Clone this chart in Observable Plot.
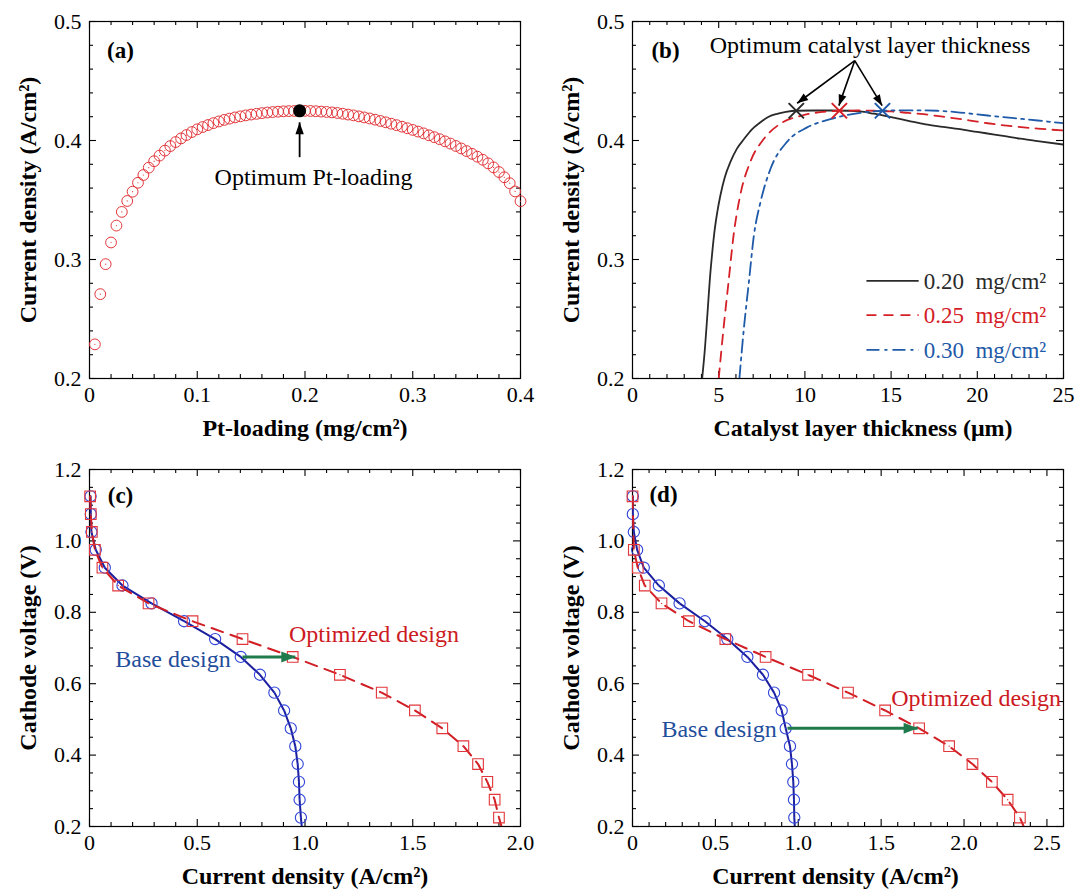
<!DOCTYPE html>
<html><head><meta charset="utf-8">
<script src="https://cdn.jsdelivr.net/npm/d3@7"></script>
<script src="https://cdn.jsdelivr.net/npm/@observablehq/plot@0.6"></script>
<style>
body{margin:0;background:#fff;}
#fig{position:relative;width:1078px;height:890px;overflow:hidden;}
#fig svg{position:absolute;overflow:visible;font-family:"Liberation Serif","Times New Roman",Times,serif !important;font-size:22px !important;}
#fig svg text{font-family:"Liberation Serif","Times New Roman",Times,serif !important;}
</style></head>
<body><div id="fig"></div>
<script>
// ---------- Panel (a) data ----------
const ptLoading = [0.005,0.010,0.015,0.020,0.025,0.030,0.035,0.040,0.045,0.050,0.055,0.060,0.065,0.070,0.075,0.080,0.085,0.090,0.095,0.100,
0.105,0.110,0.115,0.120,0.125,0.130,0.135,0.140,0.145,0.150,0.155,0.160,0.165,0.170,0.175,0.180,0.185,0.190,0.195,0.200,
0.205,0.210,0.215,0.220,0.225,0.230,0.235,0.240,0.245,0.250,0.255,0.260,0.265,0.270,0.275,0.280,0.285,0.290,0.295,0.300,
0.305,0.310,0.315,0.320,0.325,0.330,0.335,0.340,0.345,0.350,0.355,0.360,0.365,0.370,0.375,0.380,0.385,0.390,0.395,0.400];
const ptCurrent = [0.2287,0.2709,0.2961,0.3143,0.3285,0.3400,0.3492,0.3570,0.3645,0.3710,0.3772,0.3826,0.3873,0.3915,0.3953,0.3987,0.4018,0.4046,0.4071,0.4094,
0.4113,0.4130,0.4146,0.4160,0.4173,0.4184,0.4194,0.4203,0.4211,0.4218,0.4224,0.4230,0.4235,0.4239,0.4242,0.4245,0.4247,0.4248,0.4249,0.4249,
0.4248,0.4246,0.4243,0.4240,0.4236,0.4231,0.4225,0.4218,0.4211,0.4203,0.4194,0.4185,0.4175,0.4164,0.4153,0.4141,0.4129,0.4116,0.4103,0.4089,
0.4075,0.4060,0.4044,0.4028,0.4011,0.3993,0.3974,0.3954,0.3933,0.3911,0.3888,0.3864,0.3838,0.3808,0.3774,0.3735,0.3691,0.3641,0.3572,0.3490];
const optimumLoading = [{x: 0.195, y: 0.4249}];
const optimumLoadingArrow = [{x1: 0.195, y1: 0.386, x2: 0.195, y2: 0.4153}];
const optimumLoadingLabel = [{x: 0.208, y: 0.3692, text: "Optimum Pt-loading"}];

// ---------- Panel (b) data ----------
const thick020 = [4.04,4.20,4.35,4.49,4.62,4.75,4.92,5.10,5.35,5.68,6.05,6.46,6.90,7.42,7.90,8.39,8.90,9.50,10.5,11.5,12.5,13.2,14.0,15.0,16.0,17.0,18.0,19.0,20.0,21.0,21.7,22.5,23.5,25.0];
const curr020  = [0.200,0.225,0.255,0.284,0.305,0.323,0.340,0.354,0.369,0.382,0.393,0.401,0.409,0.4153,0.4200,0.4224,0.4240,0.4250,0.4252,0.4252,0.4250,0.4245,0.4225,0.4196,0.4165,0.4135,0.4115,0.4095,0.4072,0.4050,0.4034,0.4015,0.3995,0.3966];
const thick025 = [5.00,5.28,5.57,5.86,6.25,6.83,7.60,8.57,9.82,11.0,12.0,13.0,14.0,15.0,16.0,16.7,18.0,19.5,20.6,22.0,23.5,25.0];
const curr025  = [0.200,0.242,0.281,0.320,0.354,0.382,0.401,0.414,0.421,0.4240,0.4250,0.4252,0.4250,0.4245,0.4232,0.4224,0.4200,0.4170,0.4145,0.4120,0.4100,0.4084];
const thick030 = [6.20,6.46,6.75,7.04,7.42,8.00,8.97,10.13,11.48,12.84,14.0,14.5,15.5,16.5,17.7,19.0,20.6,22.0,23.5,25.0];
const curr030  = [0.200,0.242,0.281,0.320,0.348,0.376,0.399,0.411,0.418,0.4224,0.4245,0.4250,0.4253,0.4253,0.4250,0.4235,0.4210,0.4190,0.4168,0.4145];
const optThickness = [{x: 9.5, y: 0.4250, s: "0.20"}, {x: 12.0, y: 0.4250, s: "0.25"}, {x: 14.5, y: 0.4250, s: "0.30"}];
const optThicknessArrows = [{x1: 12.89, y1: 0.4671, x2: 9.55, y2: 0.4313}, {x1: 12.89, y1: 0.4671, x2: 11.97, y2: 0.4293}, {x1: 12.89, y1: 0.4671, x2: 14.48, y2: 0.4293}];
const optThicknessLabel = [{x: 13.78, y: 0.4796, text: "Optimum catalyst layer thickness"}];
const legendB = [
  {s: "0.20", x1: 13.57, x2: 16.6, y: 0.2821, text: "0.20\u00a0\u00a0mg/cm\u00b2"},
  {s: "0.25", x1: 13.57, x2: 16.6, y: 0.2533, text: "0.25\u00a0\u00a0mg/cm\u00b2"},
  {s: "0.30", x1: 13.57, x2: 16.6, y: 0.2240, text: "0.30\u00a0\u00a0mg/cm\u00b2"}
];

// ---------- Panels (c), (d) data ----------
const voltage = [1.125,1.075,1.025,0.975,0.925,0.875,0.825,0.775,0.725,0.675,0.625,0.575,0.525,0.475,0.425,0.375,0.325,0.275,0.225];
const cBase = [0.005,0.006,0.009,0.029,0.071,0.153,0.288,0.439,0.583,0.702,0.791,0.858,0.903,0.934,0.955,0.966,0.972,0.975,0.981];
const cOpt  = [0.003,0.006,0.011,0.025,0.060,0.133,0.274,0.478,0.710,0.943,1.162,1.356,1.510,1.637,1.735,1.803,1.846,1.880,1.900];
const dBase = [0.002,0.002,0.008,0.028,0.068,0.159,0.284,0.437,0.572,0.693,0.787,0.854,0.900,0.924,0.950,0.962,0.970,0.974,0.976];
const dOpt  = [0.000,null,null,0.008,0.032,0.074,0.175,0.340,0.560,0.803,1.059,1.300,1.524,1.729,1.910,2.051,2.168,2.263,2.337];
// curve ends at the bottom axis (0.2 V)
const cBaseEnd = 0.985, cOptEnd = 1.912, dBaseEnd = 0.979, dOptEnd = 2.36;
const cArrow = [{x1: 0.71, x2: 0.955, y1: 0.675, y2: 0.675}];
const dArrow = [{x1: 0.935, x2: 1.72, y1: 0.475, y2: 0.475}];
const cLabels = [{x: 1.32, y: 0.7377, text: "Optimized design", series: "opt"}, {x: 0.655, y: 0.668, text: "Base design", series: "base"}];
const dLabels = [{x: 2.073, y: 0.559, text: "Optimized design", series: "opt"}, {x: 0.870, y: 0.4723, text: "Base design", series: "base"}];

// ---------- tick values ----------
const aXTicks = [0, 0.1, 0.2, 0.3, 0.4];
const aYTicks = [0.2, 0.3, 0.4, 0.5];
const bXTicks = [0, 5, 10, 15, 20, 25];
const cdYTicks = [0.2, 0.4, 0.6, 0.8, 1.0, 1.2];
const cXTicks = [0, 0.5, 1.0, 1.5, 2.0];
const dXTicks = [0, 0.5, 1.0, 1.5, 2.0, 2.5];

// ---------- styling ----------
const FONT = '"Liberation Serif", "Times New Roman", Times, serif';
const RED_MARK = "#e2363a", RED_LINE = "#d01e24", RED_TEXT = "#cc1a22";
const BLUE_MARK = "#2f44d8", BLUE_LINE = "#1c1f9e", BLUE_TEXT = "#1f4e9c";
const GREEN = "#1f7a4c";
const colorB = {"0.20": "#2a2a2a", "0.25": "#d42026", "0.30": "#1f5aa8"};
const dashB = {"0.20": null, "0.25": "10,7", "0.30": "13,5,3,5"};
const fmt = d => d === 0 ? "0" : d3.format(".1f")(d);

function minor(lo, hi, step, majors) {
  return d3.range(Math.round((hi - lo) / step) + 1).map(i => +(lo + i * step).toFixed(6))
    .filter(v => !majors.some(m => Math.abs(m - v) < 1e-9));
}

// filled arrow-head symbol: tip at the origin, pointing up
function headSymbol(L, w) {
  return {draw(ctx) { ctx.moveTo(0, 0); ctx.lineTo(-w, L); ctx.lineTo(w, L); ctx.closePath(); }};
}
// arrow = shaft (link) + filled head rotated along the pixel direction
function arrowMarks(data, xDom, yDom, W, H, {stroke, strokeWidth, L, w}) {
  const kx = W / (xDom[1] - xDom[0]), ky = H / (yDom[1] - yDom[0]);
  const angle = d => Math.atan2((d.x2 - d.x1) * kx, (d.y2 - d.y1) * ky) * 180 / Math.PI;
  return [
    Plot.link(data, {x1: "x1", y1: "y1", x2: "x2", y2: "y2", stroke, strokeWidth}),
    Plot.dot(data, {x: "x2", y: "y2", symbol: headSymbol(L, w), rotate: angle, fill: stroke, stroke: "none", r: 1})
  ];
}

function frameTicks(xMaj, xMin, yMaj, yMin, W, H) {
  const M = 7, m = 4, sw = 1.1;
  return [
    Plot.tickX(xMaj, {x: d => d, insetTop: H - M, strokeWidth: sw}),
    Plot.tickX(xMaj, {x: d => d, insetBottom: H - M, strokeWidth: sw}),
    Plot.tickX(xMin, {x: d => d, insetTop: H - m, strokeWidth: sw}),
    Plot.tickX(xMin, {x: d => d, insetBottom: H - m, strokeWidth: sw}),
    Plot.tickY(yMaj, {y: d => d, insetRight: W - M, strokeWidth: sw}),
    Plot.tickY(yMaj, {y: d => d, insetLeft: W - M, strokeWidth: sw}),
    Plot.tickY(yMin, {y: d => d, insetRight: W - m, strokeWidth: sw}),
    Plot.tickY(yMin, {y: d => d, insetLeft: W - m, strokeWidth: sw}),
    Plot.frame({stroke: "#000", strokeWidth: 1.2})
  ];
}

function titles(xTitle, yTitle, panel, xdx, pdx, pdy) {
  return [
    Plot.text([xTitle], {text: d => d, frameAnchor: "bottom", dy: 50, dx: xdx, textAnchor: "middle", lineAnchor: "middle", fontWeight: "bold", fontSize: 24}),
    Plot.text([yTitle], {text: d => d, frameAnchor: "left", dx: -61.5, rotate: -90, textAnchor: "middle", lineAnchor: "middle", fontWeight: "bold", fontSize: 24}),
    Plot.text([panel], {text: d => d, frameAnchor: "top-left", dx: pdx, dy: pdy, textAnchor: "middle", lineAnchor: "middle", fontWeight: "bold", fontSize: 23})
  ];
}

function place(svg, left, top) {
  svg.style.left = left + "px";
  svg.style.top = top + "px";
  document.getElementById("fig").appendChild(svg);
}

const baseStyle = {fontFamily: FONT, fontSize: "22px", color: "#000", background: "transparent", overflow: "visible"};

// ---------- Panel (a) ----------
{
  const W = 540, H = 445, ml = 89, mr = 20, mt = 21, mb = 67;
  const xDom = [0, 0.4], yDom = [0.2, 0.5];
  const rows = ptLoading.map((x, i) => ({x, y: ptCurrent[i]}));
  const p = Plot.plot({
    width: W, height: H, marginLeft: ml, marginRight: mr, marginTop: mt, marginBottom: mb,
    style: baseStyle,
    x: {domain: xDom, ticks: aXTicks, tickSize: 0, tickPadding: 8, tickFormat: fmt, label: null},
    y: {domain: yDom, ticks: aYTicks, tickSize: 0, tickPadding: 8, tickFormat: fmt, label: null},
    marks: [
      ...frameTicks(aXTicks, minor(0, 0.4, 0.02, aXTicks), aYTicks, minor(0.2, 0.5, 0.02, aYTicks), W - ml - mr, H - mt - mb),
      Plot.dot(rows, {x: "x", y: "y", r: 5.4, stroke: RED_MARK, strokeWidth: 1, fill: "none"}),
      Plot.dot(rows, {x: "x", y: "y", r: 0.6, fill: RED_MARK}),
      Plot.dot(optimumLoading, {x: "x", y: "y", r: 6.5, fill: "#000"}),
      ...arrowMarks(optimumLoadingArrow, xDom, yDom, W - ml - mr, H - mt - mb, {stroke: "#000", strokeWidth: 1.8, L: 12, w: 4.2}),
      Plot.text(optimumLoadingLabel, {x: "x", y: "y", text: "text", fontSize: 24}),
      ...titles("Pt-loading (mg/cm\u00b2)", "Current density (A/cm\u00b2)", "(a)", 0, 31, 29)
    ]
  });
  place(p, 0, 0);
}

// ---------- Panel (b) ----------
{
  const W = 538, H = 445, ml = 92, mr = 15, mt = 21, mb = 67;
  const xDom = [0, 25], yDom = [0.2, 0.5];
  const series = [
    ...thick020.map((x, i) => ({s: "0.20", x, y: curr020[i]})),
    ...thick025.map((x, i) => ({s: "0.25", x, y: curr025[i]})),
    ...thick030.map((x, i) => ({s: "0.30", x, y: curr030[i]}))
  ];
  const lineMarks = ["0.20", "0.25", "0.30"].map(s =>
    Plot.line(series.filter(d => d.s === s), {x: "x", y: "y", stroke: colorB[s], strokeWidth: 1.8, strokeDasharray: dashB[s], curve: "monotone-x", clip: true}));
  const legendMarks = ["0.20", "0.25", "0.30"].map(s =>
    Plot.link(legendB.filter(d => d.s === s), {x1: "x1", x2: "x2", y1: "y", y2: "y", stroke: colorB[s], strokeWidth: 1.8, strokeDasharray: dashB[s]}));
  const p = Plot.plot({
    width: W, height: H, marginLeft: ml, marginRight: mr, marginTop: mt, marginBottom: mb,
    style: baseStyle,
    x: {domain: xDom, ticks: bXTicks, tickSize: 0, tickPadding: 8, tickFormat: d => String(d), label: null},
    y: {domain: yDom, ticks: aYTicks, tickSize: 0, tickPadding: 8, tickFormat: fmt, label: null},
    marks: [
      ...frameTicks(bXTicks, minor(0, 25, 1, bXTicks), aYTicks, minor(0.2, 0.5, 0.02, aYTicks), W - ml - mr, H - mt - mb),
      ...lineMarks,
      Plot.dot(optThickness, {x: "x", y: "y", symbol: "times", r: 7, stroke: d => colorB[d.s], strokeWidth: 2}),
      ...arrowMarks(optThicknessArrows, xDom, yDom, W - ml - mr, H - mt - mb, {stroke: "#000", strokeWidth: 1.6, L: 11, w: 4}),
      Plot.text(optThicknessLabel, {x: "x", y: "y", text: "text", fontSize: 24}),
      ...legendMarks,
      Plot.text(legendB, {x: "x2", y: "y", text: "text", textAnchor: "start", dx: 5, dy: 1, fill: d => colorB[d.s], fontSize: 23}),
      ...titles("Catalyst layer thickness (\u03bcm)", "Current density (A/cm\u00b2)", "(b)", 15, 33, 29)
    ]
  });
  place(p, 540, 0);
}

// ---------- Panels (c), (d) ----------
function polPanel(base, opt, baseEnd, optEnd, arrow, labels, xTicks, xMax, panel, xdx, pdy, left) {
  const W = left === 0 ? 540 : 538, H = 445;
  const ml = left === 0 ? 89 : 92, mr = left === 0 ? 20 : 15, mt = 24, mb = 64;
  const xDom = [0, xMax], yDom = [0.2, 1.2];
  const baseRows = voltage.map((v, i) => ({x: base[i], y: v})).filter(d => d.x != null);
  const optRows = voltage.map((v, i) => ({x: opt[i], y: v})).filter(d => d.x != null);
  const baseLine = [...baseRows, {x: baseEnd, y: 0.2}];
  const optLine = [...optRows, {x: optEnd, y: 0.2}];
  const p = Plot.plot({
    width: W, height: H, marginLeft: ml, marginRight: mr, marginTop: mt, marginBottom: mb,
    style: baseStyle,
    x: {domain: xDom, ticks: xTicks, tickSize: 0, tickPadding: 8, tickFormat: fmt, label: null},
    y: {domain: yDom, ticks: cdYTicks, tickSize: 0, tickPadding: 8, tickFormat: fmt, label: null},
    marks: [
      ...frameTicks(xTicks, minor(0, xMax, 0.1, xTicks), cdYTicks, minor(0.2, 1.2, 0.05, cdYTicks), W - ml - mr, H - mt - mb),
      Plot.line(baseLine, {x: "x", y: "y", stroke: BLUE_LINE, strokeWidth: 2, clip: true}),
      Plot.dot(baseRows, {x: "x", y: "y", r: 5.6, stroke: BLUE_MARK, strokeWidth: 1.1, fill: "none"}),
      Plot.dot(baseRows, {x: "x", y: "y", r: 0.7, fill: BLUE_MARK}),
      Plot.line(optLine, {x: "x", y: "y", stroke: RED_LINE, strokeWidth: 2, strokeDasharray: "12,8", clip: true}),
      Plot.dot(optRows, {x: "x", y: "y", symbol: "square", r: 6.0, stroke: RED_MARK, strokeWidth: 1.1, fill: "none"}),
      Plot.dot(optRows, {x: "x", y: "y", r: 0.7, fill: RED_MARK}),
      ...arrowMarks(arrow, xDom, yDom, W - ml - mr, H - mt - mb, {stroke: GREEN, strokeWidth: 3, L: 14, w: 5.5}),
      Plot.text(labels.filter(d => d.series === "opt"), {x: "x", y: "y", text: "text", fill: RED_TEXT, fontSize: 24}),
      Plot.text(labels.filter(d => d.series === "base"), {x: "x", y: "y", text: "text", fill: BLUE_TEXT, fontSize: 24, textAnchor: "end"}),
      ...titles("Current density (A/cm\u00b2)", "Cathode voltage (V)", panel, xdx, 31, pdy)
    ]
  });
  place(p, left, 445);
}
polPanel(cBase, cOpt, cBaseEnd, cOptEnd, cArrow, cLabels, cXTicks, 2.0, "(c)", 0, 26, 0);
polPanel(dBase, dOpt, dBaseEnd, dOptEnd, dArrow, dLabels, dXTicks, 2.6, "(d)", -12.5, 25, 540);
</script>
</body></html>
